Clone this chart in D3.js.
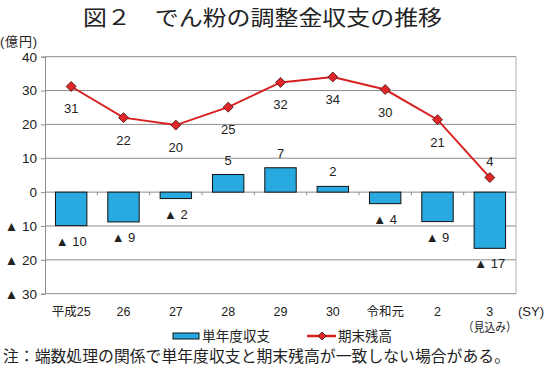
<!DOCTYPE html>
<html><head><meta charset="utf-8">
<script src="https://cdn.jsdelivr.net/npm/d3@7/dist/d3.min.js"></script>
<style>
body{margin:0;background:#fff;}
svg text{font-family:"Liberation Sans","Noto Sans CJK JP",sans-serif;fill:#222;}
</style></head>
<body><svg id="c" width="545" height="375"></svg>
<script>
const categories = ["平成25","26","27","28","29","30","令和元","2","3"];
const annualBalance = [-9.9,-8.8,-1.9,5.2,7.2,1.7,-3.4,-8.7,-16.6];
const annualLabels = ["▲ 10","▲ 9","▲ 2","5","7","2","▲ 4","▲ 9","▲ 17"];
const endBalance = [31.2,22.0,19.8,25.1,32.4,34.0,30.3,21.4,4.3];
const endLabels = ["31","22","20","25","32","34","30","21","4"];
const yTicks = [40,30,20,10,0,-10,-20,-30];

const svg = d3.select("#c");
const L=45,R=516,T=56.7,B=293.7;
const x = d3.scaleBand().domain(categories).range([L,R]).paddingInner(0.4).paddingOuter(0.2);
const y = d3.scaleLinear().domain([-30,40]).range([B,T]);
const CJK = "'Noto Sans CJK JP',sans-serif";

// title
svg.append("text").attr("x",83).attr("y",24.5)
  .attr("textLength",359).attr("lengthAdjust","spacingAndGlyphs")
  .style("font-family",CJK).style("font-size","21px")
  .text("図２　でん粉の調整金収支の推移");
svg.append("text").attr("x",0).attr("y",46).style("font-size","13px")
  .attr("textLength",37).text("(億円)");

// gridlines
svg.append("g").selectAll("line").data(yTicks).join("line")
  .attr("x1",L).attr("x2",R).attr("y1",d=>y(d)).attr("y2",d=>y(d))
  .attr("stroke","#8c8c8c").attr("stroke-width",1);
// right border
svg.append("line").attr("x1",R).attr("x2",R).attr("y1",T).attr("y2",B).attr("stroke","#b0b0b0");

// y axis
const ya = svg.append("g").attr("transform",`translate(${L},0)`)
  .call(d3.axisLeft(y).tickValues(yTicks).tickSize(4).tickPadding(4)
    .tickFormat(d=>d<0?"▲ "+Math.abs(d):d));
ya.select(".domain").attr("stroke","#8c8c8c");
ya.selectAll(".tick line").attr("stroke","#8c8c8c");
ya.selectAll("text").style("font-size","13.5px").style("fill","#222");

// zero-line ticks at band boundaries
const bounds = categories.slice(1).map(c=>x(c)-x.step()*x.paddingInner()/2);
svg.append("g").selectAll("line").data(bounds).join("line")
  .attr("x1",d=>d).attr("x2",d=>d).attr("y1",y(0)).attr("y2",y(0)+3)
  .attr("stroke","#8c8c8c");

// bars
svg.append("g").selectAll("rect").data(annualBalance).join("rect")
  .attr("x",(d,i)=>x(categories[i])).attr("width",x.bandwidth())
  .attr("y",d=>y(Math.max(0,d))).attr("height",d=>Math.abs(y(d)-y(0)))
  .attr("fill","#28a9e0").attr("stroke","#111").attr("stroke-width",1);
svg.append("g").selectAll("text").data(annualBalance).join("text")
  .attr("x",(d,i)=>x(categories[i])+x.bandwidth()/2)
  .attr("y",d=>d>=0?y(d)-10:y(d)+20)
  .attr("text-anchor","middle").style("font-size","13px")
  .text((d,i)=>annualLabels[i]);

// line
const cx=(i)=>x(categories[i])+x.bandwidth()/2;
svg.append("path").datum(endBalance)
  .attr("d",d3.line().x((d,i)=>cx(i)).y(d=>y(d)))
  .attr("fill","none").attr("stroke","#d7201f").attr("stroke-width",2);
svg.append("g").selectAll("path").data(endBalance).join("path")
  .attr("transform",(d,i)=>`translate(${cx(i)},${y(d)})`)
  .attr("d","M0,-5L5,0L0,5L-5,0Z")
  .attr("fill","#e0262a").attr("stroke","#3a1010").attr("stroke-width",0.8);
svg.append("g").selectAll("text").data(endBalance).join("text")
  .attr("x",(d,i)=>cx(i))
  .attr("y",(d,i)=>i===endBalance.length-1?y(d)-12:y(d)+27)
  .attr("text-anchor","middle").style("font-size","13px")
  .text((d,i)=>endLabels[i]);

// x labels
svg.append("g").selectAll("text").data(categories).join("text")
  .attr("x",c=>x(c)+x.bandwidth()/2).attr("y",316)
  .attr("text-anchor","middle").style("font-size","12.5px").text(c=>c);
svg.append("text").attr("x",cx(8)).attr("y",332).attr("text-anchor","middle")
  .attr("textLength",54).attr("lengthAdjust","spacingAndGlyphs")
  .style("font-size","12px").text("（見込み）");
svg.append("text").attr("x",518).attr("y",316).style("font-size","13px").text("(SY)");

// legend
svg.append("rect").attr("x",173).attr("y",333).attr("width",26).attr("height",6)
  .attr("fill","#28a9e0").attr("stroke","#111").attr("stroke-width",1);
svg.append("text").attr("x",202).attr("y",341).style("font-size","13.5px")
  .attr("textLength",68).style("font-family",CJK).text("単年度収支");
svg.append("line").attr("x1",307).attr("x2",336).attr("y1",336).attr("y2",336)
  .attr("stroke","#d7201f").attr("stroke-width",2.5);
svg.append("path").attr("transform","translate(322,336)").attr("d","M0,-4L4,0L0,4L-4,0Z")
  .attr("fill","#e0262a").attr("stroke","#3a1010").attr("stroke-width",0.8);
svg.append("text").attr("x",338).attr("y",341).style("font-size","13.5px")
  .attr("textLength",54).style("font-family",CJK).text("期末残高");

// note
svg.append("text").attr("x",3).attr("y",362).style("font-size","15.4px")
  .attr("textLength",507).attr("lengthAdjust","spacingAndGlyphs")
  .style("font-family",CJK)
  .text("注：端数処理の関係で単年度収支と期末残高が一致しない場合がある。");
</script></body></html>
